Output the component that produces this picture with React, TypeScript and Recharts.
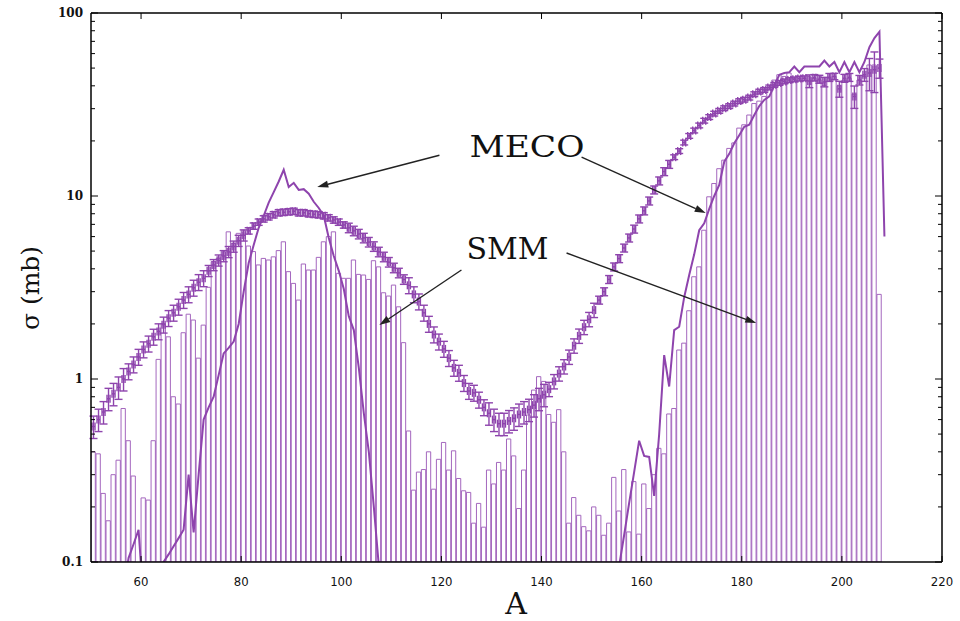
import React from 'react';
import {
  ComposedChart,
  Bar,
  Line,
  Scatter,
  ErrorBar,
  XAxis,
  YAxis,
  ReferenceLine,
  ReferenceDot,
} from 'recharts';

const FIRST_A = 50;

// SMM histogram, one bin per mass number, A = 50..207
const smmValues = [
  0.4, 0.39, 0.237, 0.168, 0.3, 0.36, 0.69, 0.46, 0.295, 0.1,
  0.224, 0.218, 0.46, 1.28, 2.01, 1.7, 0.8, 0.73, 1.79, 2.26,
  2.1, 1.3, 1.97, 3.17, 4.38, 4.56, 4.97, 6.37, 5.5, 6.25,
  6.5, 5.33, 4.97, 4.2, 4.56, 4.47, 4.65, 5.03, 5.62, 3.86,
  3.33, 2.7, 4.25, 3.94, 3.94, 4.62, 5.62, 6.0, 6.37, 3.78,
  3.55, 3.55, 4.47, 3.73, 3.7, 3.5, 4.43, 4.1, 2.96, 2.84,
  3.26, 2.48, 1.58, 0.52, 0.247, 0.31, 0.32, 0.4, 0.25, 0.364,
  0.45, 0.318, 0.405, 0.286, 0.245, 0.24, 0.163, 0.209, 0.155, 0.318,
  0.267, 0.35, 0.318, 0.47, 0.38, 0.196, 0.318, 0.636, 0.87, 1.03,
  0.97, 0.64, 0.58, 0.68, 0.4, 0.163, 0.225, 0.18, 0.156, 0.148,
  0.2, 0.18, 0.14, 0.163, 0.29, 0.19, 0.32, 0.146, 0.275, 0.142,
  0.267, 0.196, 0.3, 0.418, 0.39, 0.644, 0.69, 1.44, 1.57, 2.36,
  3.62, 4.1, 6.5, 9.9, 11.7, 14.1, 15.7, 18.2, 19.5, 23.5,
  24.5, 27.7, 32, 33, 35, 39, 43, 46, 45, 47,
  44, 45, 44, 45, 44, 43, 40, 44, 45, 40,
  43, 44, 36, 43, 45, 52, 52, 2.9,
];

// measured cross sections, A = 50..207
const dataValues = [
  0.55, 0.6, 0.66, 0.78, 0.83, 0.9, 1.0, 1.1, 1.2, 1.32,
  1.45, 1.56, 1.7, 1.82, 1.98, 2.15, 2.3, 2.48, 2.7, 2.9,
  3.15, 3.38, 3.55, 3.9, 4.2, 4.45, 4.7, 4.95, 5.3, 5.7,
  6.1, 6.45, 6.85, 7.2, 7.5, 7.7, 7.9, 8.1, 8.15, 8.2,
  8.25, 8.1, 8.1, 8.0, 7.95, 7.9, 7.8, 7.6, 7.4, 7.2,
  6.95, 6.7, 6.45, 6.2, 5.9, 5.6, 5.3, 4.95, 4.65, 4.35,
  4.05, 3.8, 3.5, 3.25, 2.9, 2.65, 2.3, 2.0, 1.75, 1.6,
  1.46, 1.3, 1.15, 1.08, 0.95, 0.86, 0.84, 0.77, 0.7, 0.65,
  0.6, 0.57, 0.57, 0.59, 0.61, 0.64, 0.66, 0.68, 0.72, 0.78,
  0.82, 0.88, 0.97, 1.07, 1.17, 1.32, 1.52, 1.72, 1.92, 2.12,
  2.38, 2.7, 3.0, 3.5, 4.1, 4.55, 5.2, 5.9, 6.6, 7.5,
  8.3, 9.4, 10.8, 12.1, 13.6, 14.9, 16.3, 17.6, 19.6, 21.3,
  22.8, 24.3, 25.8, 27, 28.2, 29.2, 30.2, 31, 32, 33,
  33.6, 34.5, 36, 37.2, 38, 39.2, 40.5, 41.5, 42.3, 43,
  43.4, 43.8, 44, 42.5, 44.3, 43.5, 42, 44.5, 45, 38.5,
  44, 44.5, 35, 43, 46, 47, 49, 50,
];

// relative error of each measured point
const dataErrPct = [
  0.14, 0.14, 0.14, 0.14, 0.14, 0.14, 0.14, 0.1, 0.1, 0.1,
  0.1, 0.1, 0.1, 0.1, 0.1, 0.1, 0.1, 0.1, 0.1, 0.1,
  0.1, 0.1, 0.1, 0.07, 0.07, 0.07, 0.07, 0.07, 0.07, 0.07,
  0.07, 0.04, 0.04, 0.04, 0.04, 0.04, 0.04, 0.04, 0.04, 0.04,
  0.04, 0.04, 0.04, 0.04, 0.04, 0.04, 0.04, 0.04, 0.04, 0.04,
  0.04, 0.06, 0.06, 0.06, 0.06, 0.06, 0.06, 0.06, 0.06, 0.06,
  0.06, 0.06, 0.06, 0.1, 0.1, 0.1, 0.1, 0.1, 0.1, 0.1,
  0.1, 0.1, 0.1, 0.1, 0.1, 0.1, 0.1, 0.1, 0.1, 0.14,
  0.14, 0.14, 0.14, 0.14, 0.14, 0.14, 0.14, 0.14, 0.14, 0.14,
  0.14, 0.09, 0.09, 0.09, 0.09, 0.09, 0.09, 0.09, 0.09, 0.09,
  0.09, 0.05, 0.05, 0.05, 0.05, 0.05, 0.05, 0.05, 0.05, 0.05,
  0.05, 0.05, 0.05, 0.05, 0.05, 0.05, 0.03, 0.03, 0.03, 0.03,
  0.03, 0.03, 0.03, 0.03, 0.03, 0.03, 0.03, 0.03, 0.03, 0.03,
  0.03, 0.03, 0.03, 0.03, 0.03, 0.03, 0.03, 0.03, 0.03, 0.03,
  0.03, 0.03, 0.03, 0.08, 0.04, 0.05, 0.06, 0.05, 0.04, 0.1,
  0.05, 0.05, 0.14, 0.06, 0.08, 0.2, 0.25, 0.12,
];

// MECO curve, light fragments A = 56..108
const mecoLowStart = 56;
const mecoLow = [
  0.07, 0.105, 0.125, 0.15, 0.06, 0.045, 0.045, 0.08, 0.1, 0.11,
  0.122, 0.135, 0.15, 0.3, 0.145, 0.3, 0.6, 0.7, 0.8, 1.05,
  1.38, 1.48, 1.6, 2.0, 3.0, 4.3, 5.4, 6.7, 7.8, 9.2,
  10.5, 12, 13.9, 11.2, 11.8, 10.8, 10.9, 10.3, 9.3, 8.6,
  7.8, 5.9, 4.7, 3.9, 3.1, 2.2, 1.85, 1.15, 0.65, 0.4,
  0.2, 0.095, 0.05,
];

// MECO curve, heavy residues A = 155..208
const mecoHighStart = 155;
const mecoHigh = [
  0.095, 0.14, 0.21, 0.31, 0.46, 0.38, 0.375, 0.23, 0.5, 1.35,
  0.91, 1.85, 1.93, 2.8, 3.7, 4.8, 6.5, 7.1, 8.5, 10,
  11.5, 15.4, 17, 19.4, 21.5, 23.9, 24.5, 27.7, 31, 33.5,
  35, 40, 46, 47, 47.5, 51, 47.5, 51, 51, 51,
  51, 55, 51, 54, 47.5, 54, 47.5, 54, 47.5, 54,
  65, 73, 79, 6,
];

const xTicks = [60, 80, 100, 120, 140, 160, 180, 200, 220];
const yMajor = [0.1, 1, 10, 100];
const yTicks = [
  0.1, 0.2, 0.3, 0.4, 0.5, 0.6, 0.7, 0.8, 0.9,
  1, 2, 3, 4, 5, 6, 7, 8, 9,
  10, 20, 30, 40, 50, 60, 70, 80, 90, 100,
];

// annotation arrows in data coordinates
const arrows = [
  { from: [119.6, 16.7], to: [95.2, 11.2] },
  { from: [148.0, 16.3], to: [172.8, 8.07] },
  { from: [124.0, 3.94], to: [107.6, 1.97] },
  { from: [145.0, 4.88], to: [182.9, 2.02] },
];
const notes = [
  { text: 'MECO', x: 125.6, y: 16.3, w: 115 },
  { text: 'SMM', x: 125.0, y: 4.53, w: 82 },
];

const BAR_COLOR = '#a467be';
const LINE_COLOR = '#8e44ad';

const rows: { x: number; smm: number | null; meco: number | null }[] = [];
for (let a = FIRST_A; a <= 208; a++) {
  const lo = a - mecoLowStart;
  const hi = a - mecoHighStart;
  let meco: number | null = null;
  if (lo >= 0 && lo < mecoLow.length) meco = mecoLow[lo];
  if (hi >= 0 && hi < mecoHigh.length) meco = mecoHigh[hi];
  rows.push({ x: a + 0.5, smm: smmValues[a - FIRST_A] ?? null, meco });
}

const points = dataValues.map((v, i) => ({
  x: FIRST_A + i + 0.5,
  y: v,
  ey: v * dataErrPct[i],
  ex: 0.3,
}));

const tickFont = "'DejaVu Sans Condensed', 'Liberation Sans Narrow', sans-serif";

const leftTick = (p: any) => {
  const v = p.payload.value;
  const major = yMajor.includes(v);
  return (
    <g>
      <line x1={p.x} x2={p.x + (major ? 7 : 4)} y1={p.y} y2={p.y} stroke="#000" />
      {major && (
        <text x={p.x - 8} y={p.y + 4} textAnchor="end" fontFamily="'DejaVu Serif', serif" fontWeight="bold" fontSize={12} fill="#111">
          {String(v)}
        </text>
      )}
    </g>
  );
};

const rightTick = (p: any) => {
  const major = yMajor.includes(p.payload.value);
  return <line x1={p.x} x2={p.x - (major ? 7 : 4)} y1={p.y} y2={p.y} stroke="#000" />;
};

const bottomTick = (p: any) => (
  <g>
    <line x1={p.x} x2={p.x} y1={p.y} y2={p.y - 6} stroke="#000" />
    <text x={p.x} y={p.y + 24} textAnchor="middle" fontFamily={tickFont} fontSize={13} fill="#111">
      {p.payload.value}
    </text>
  </g>
);

const topTick = (p: any) => <line x1={p.x} x2={p.x} y1={p.y} y2={p.y + 6} stroke="#000" />;

const Arrow = (p: any) => {
  const { x1, y1, x2, y2 } = p;
  const ang = Math.atan2(y2 - y1, x2 - x1);
  const len = 11;
  const half = 3.5;
  const bx = x2 - len * Math.cos(ang);
  const by = y2 - len * Math.sin(ang);
  const pts = `${x2},${y2} ${bx - half * Math.sin(ang)},${by + half * Math.cos(ang)} ${bx + half * Math.sin(ang)},${by - half * Math.cos(ang)}`;
  return (
    <g>
      <line x1={x1} y1={y1} x2={bx} y2={by} stroke="#222" strokeWidth={1.4} />
      <polygon points={pts} fill="#222" />
    </g>
  );
};

const axisLine = { stroke: '#000', strokeWidth: 1.5 };

export default function App() {
  return (
    <div style={{ position: 'absolute', left: 0, top: 0, background: '#fff' }}>
      <ComposedChart width={960} height={621} data={rows} margin={{ top: 12, right: 17, bottom: 0, left: 0 }}>
        <XAxis
          dataKey="x"
          type="number"
          domain={[50, 220]}
          allowDataOverflow
          ticks={xTicks}
          interval={0}
          tickSize={0}
          tickMargin={0}
          tickLine={false}
          axisLine={axisLine}
          height={59}
          tick={bottomTick}
          label={{
            value: 'A',
            content: () => (
              <text x={516} y={614} textAnchor="middle" fontFamily="'DejaVu Serif', serif" fontSize={30} fill="#111">
                A
              </text>
            ),
          }}
        />
        <XAxis
          xAxisId="top"
          orientation="top"
          dataKey="x"
          type="number"
          domain={[50, 220]}
          allowDataOverflow
          ticks={xTicks}
          interval={0}
          tickSize={0}
          tickMargin={0}
          tickLine={false}
          axisLine={axisLine}
          height={1}
          tick={topTick}
        />
        <YAxis
          type="number"
          scale="log"
          domain={[0.1, 100]}
          allowDataOverflow
          ticks={yTicks}
          interval={0}
          tickSize={0}
          tickMargin={0}
          tickLine={false}
          axisLine={axisLine}
          width={91}
          tick={leftTick}
          label={{
            value: 'σ (mb)',
            content: () => (
              <text x={30} y={288} transform="rotate(-90 30 288)" textAnchor="middle" dominantBaseline="central" fontFamily="'DejaVu Serif', serif" fontSize={25} fill="#111">
                σ (mb)
              </text>
            ),
          }}
        />
        <YAxis
          yAxisId="right"
          orientation="right"
          type="number"
          scale="log"
          domain={[0.1, 100]}
          allowDataOverflow
          ticks={yTicks}
          interval={0}
          tickSize={0}
          tickMargin={0}
          tickLine={false}
          axisLine={axisLine}
          width={1}
          tick={rightTick}
        />
        <Bar dataKey="smm" barSize={4.3} fill="none" stroke={BAR_COLOR} strokeWidth={1} isAnimationActive={false} />
        <Line dataKey="meco" stroke={LINE_COLOR} strokeWidth={2} dot={false} connectNulls={false} isAnimationActive={false} />
        <Scatter data={points} dataKey="y" shape={() => <g />} isAnimationActive={false}>
          <ErrorBar dataKey="ey" direction="y" width={4} stroke={LINE_COLOR} strokeWidth={1.4} />
          <ErrorBar dataKey="ex" direction="x" width={4} stroke={LINE_COLOR} strokeWidth={1.4} />
        </Scatter>
        {arrows.map((a, i) => (
          <ReferenceLine
            key={i}
            segment={[
              { x: a.from[0], y: a.from[1] },
              { x: a.to[0], y: a.to[1] },
            ]}
            shape={Arrow}
          />
        ))}
        {notes.map((n) => (
          <ReferenceDot
            key={n.text}
            x={n.x}
            y={n.y}
            r={0}
            shape={(p: any) => (
              <text x={p.cx} y={p.cy} textLength={n.w} lengthAdjust="spacingAndGlyphs" fontFamily="'DejaVu Serif', serif" fontSize={30} fill="#111">
                {n.text}
              </text>
            )}
          />
        ))}
      </ComposedChart>
    </div>
  );
}
